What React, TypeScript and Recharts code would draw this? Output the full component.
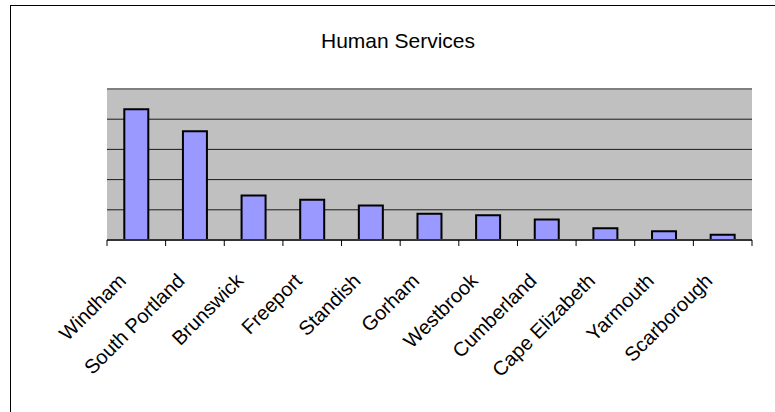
import React from "react";
import {
    BarChart,
    Bar,
    XAxis,
    YAxis,
    CartesianGrid,
    ReferenceLine,
} from "recharts";

const towns = [
    "Windham",
    "South Portland",
    "Brunswick",
    "Freeport",
    "Standish",
    "Gorham",
    "Westbrook",
    "Cumberland",
    "Cape Elizabeth",
    "Yarmouth",
    "Scarborough",
];
const amounts = [4.33, 3.6, 1.47, 1.33, 1.14, 0.87, 0.82, 0.68, 0.39, 0.29, 0.17];
const gridTicks = [0, 1, 2, 3, 4, 5];

const data = towns.map((town, i) => ({ town, amount: amounts[i] }));

const FONT = '"Liberation Sans", Arial, sans-serif';

function TownTick(props: any) {
    const { x, y, payload, index, visibleTicksCount } = props;
    const half = payload.offset ?? 0;
    const ax = x - 9;
    const ay = y + 42;
    const isLast = index === visibleTicksCount - 1;
    return (
        <g>
            <line x1={x - half} x2={x - half} y1={y} y2={y + 6} stroke="#000" strokeWidth={1} />
            {isLast && <line x1={x + half} x2={x + half} y1={y} y2={y + 6} stroke="#000" strokeWidth={1} />}
            <text
                x={ax}
                y={ay}
                transform={`rotate(-45, ${ax}, ${ay})`}
                textAnchor="end"
                fontSize={20}
                fontFamily={FONT}
                fill="#000"
            >
                {payload.value}
            </text>
        </g>
    );
}

const NoLabel = () => <g />;

export default function App() {
    return (
        <div style={{ position: "absolute", left: 0, top: 0, width: 775, height: 412, overflow: "hidden", background: "#fff" }}>
            <div
                style={{
                    position: "absolute",
                    left: 10,
                    top: 5,
                    width: 776,
                    height: 420,
                    border: "1px solid #000",
                    boxSizing: "border-box",
                }}
            />
            <div
                style={{
                    position: "absolute",
                    left: 10,
                    width: 776,
                    top: 30,
                    textAlign: "center",
                    fontFamily: FONT,
                    fontSize: 21,
                    lineHeight: "21px",
                    color: "#000",
                }}
            >
                Human Services
            </div>
            <div style={{ position: "absolute", left: 0, top: 0 }}>
                <BarChart
                    width={775}
                    height={412}
                    data={data}
                    margin={{ top: 89, right: 23, left: 107, bottom: 0 }}
                    barCategoryGap="29.5%"
                >
                    <CartesianGrid
                        vertical={false}
                        fill="#C0C0C0"
                        fillOpacity={1}
                        stroke="#1a1a1a"
                        strokeWidth={1}
                    />
                    <XAxis
                        dataKey="town"
                        interval={0}
                        height={172}
                        tickSize={0}
                        tickMargin={0}
                        axisLine={{ stroke: "#333", strokeWidth: 2 }}
                        tickLine={false}
                        tick={<TownTick />}
                    />
                    <YAxis
                        domain={[0, 5]}
                        ticks={gridTicks}
                        width={0}
                        tick={<NoLabel />}
                        tickLine={false}
                        axisLine={{ stroke: "#808080", strokeWidth: 2 }}
                    />
                    <YAxis
                        yAxisId="right"
                        orientation="right"
                        domain={[0, 5]}
                        width={0}
                        tick={<NoLabel />}
                        tickLine={false}
                        axisLine={{ stroke: "#808080", strokeWidth: 2 }}
                    />
                    <ReferenceLine y={5} stroke="#808080" strokeWidth={2} />
                    <Bar
                        dataKey="amount"
                        fill="#9999FF"
                        stroke="#000"
                        strokeWidth={2}
                        isAnimationActive={false}
                    />
                </BarChart>
            </div>
        </div>
    );
}
